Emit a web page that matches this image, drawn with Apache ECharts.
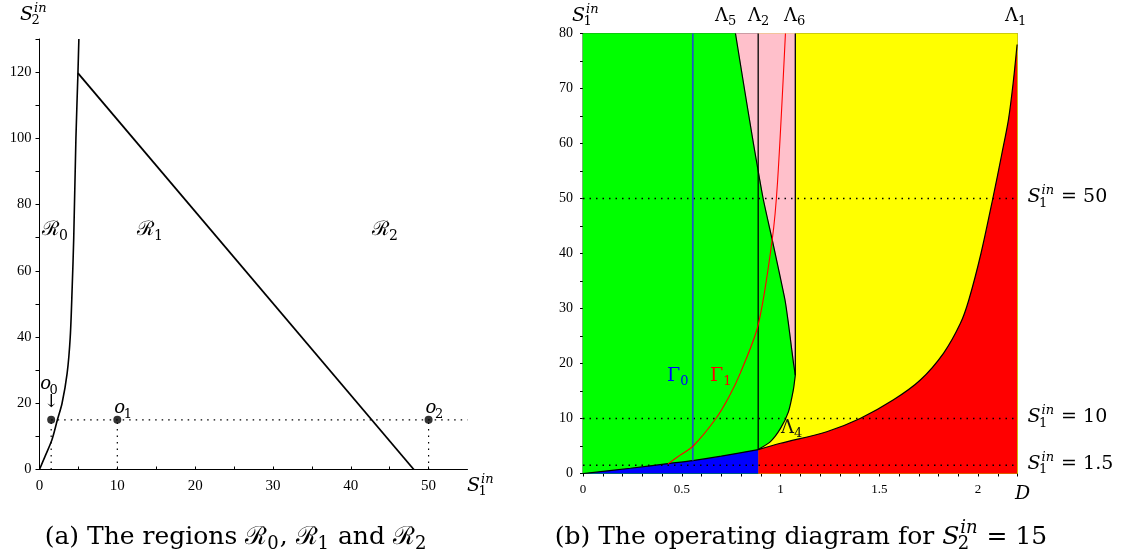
<!DOCTYPE html>
<html>
<head>
<meta charset="utf-8">
<script src="https://cdn.jsdelivr.net/npm/echarts@6/dist/echarts.min.js"></script>
<style>
  html, body { margin: 0; padding: 0; background: #fff; }
  #chart { width: 1129px; height: 558px; }
</style>
</head>
<body>
<div id="chart"></div>
<script>
// ---------- Panel (a): regions in the (S1in, S2in) plane ----------
const aXMax = 55;
const aYMax = 130;
const aS2in = 15;
// boundary between R0 and R1 (S1in, S2in)
const aBoundaryR0 = [[0, 0], [0.7, 3.9], [1.6, 9], [2.3, 15], [2.9, 20], [3.55, 29], [3.95, 40],
                     [4.2, 55], [4.4, 70], [4.68, 100], [4.94, 119.7], [5.06, 130]];
// boundary between R1 and R2
const aBoundaryR12 = [[4.94, 119.7], [48.1, 0]];
// operating points o0, o1, o2 on the line S2in = 15
const aPoints = [[1.5, 15], [10, 15], [50, 15]];
const aPointSubs = ['0', '1', '2'];

// ---------- Panel (b): operating diagram in the (D, S1in) plane ----------
const bDMax = 2.2;
const bSMax = 80;
const bLevels = [50, 10, 1.5];
// lower boundary of the blue region
const bLower = [[0, 0], [0.24, 0.95], [0.44, 1.85], [0.556, 2.35], [0.7, 3.15], [0.887, 4.35]];
// Lambda1 curve (yellow / red)
const bLambda1 = [[0.887, 4.35], [1.0, 5.5], [1.234, 7.6], [1.403, 10.0], [1.572, 13.4], [1.708, 17.0],
                  [1.826, 21.9], [1.911, 27.3], [1.953, 31.5], [2.015, 40], [2.075, 50], [2.12, 58],
                  [2.154, 64.3], [2.178, 71], [2.198, 78]];
// Lambda4 curve (green / yellow)
const bLambda4 = [[0.887, 4.35], [0.949, 5.8], [1.0, 8.2], [1.04, 11.2], [1.065, 15.2], [1.075, 17.9]];
// Lambda5 curve (green / pink)
const bLambda5 = [[1.075, 17.9], [1.066, 20], [1.057, 22.5], [1.04, 27.3], [1.023, 31.5], [0.958, 42.5],
                  [0.912, 50], [0.863, 60], [0.817, 70], [0.772, 80]];
// Gamma1 curve
const bGamma1 = [[0.43, 1.75], [0.49, 3.3], [0.558, 5], [0.673, 10], [0.74, 14], [0.797, 18.3],
                 [0.887, 27], [0.958, 42.5], [0.985, 53], [1.025, 80]];
const bLambda2D = 0.887;
const bLambda6D = 1.075;
const bGamma0D = 0.556;

// Flat-edged regions (painted in this order; red and blue are line areas drawn on top)
const bRegions = [
  { color: '#ffff00', pts: [[bLambda2D, 0], [bDMax, 0], [bDMax, bSMax], [bLambda2D, bSMax]] },
  { color: '#ffc0cb', pts: [...bLambda5, [bLambda6D, bSMax]] },
  { color: '#00ff00', pts: [[0, 0], [bLambda2D, 0], ...bLambda4, ...bLambda5.slice(1), [0, bSMax]] }
];

const TICKFONT = '"Liberation Serif", serif';
const MATH = '"DejaVu Serif", "Liberation Serif", serif';
const near = (v, step) => Math.abs(v / step - Math.round(v / step)) < 1e-6;

const chart = echarts.init(document.getElementById('chart'));

function lineSeries(data, axis, color, width, dash, extra) {
  return Object.assign({
    type: 'line', xAxisIndex: axis, yAxisIndex: axis, data: data,
    symbol: 'none', silent: true, animation: false, z: 3,
    lineStyle: { color: color, width: width, type: dash || 'solid' }
  }, extra || {});
}

const dotted = [1.5, 5];

const series = [
  // panel (a)
  lineSeries(aBoundaryR0, 0, '#000', 1.6, null, { smooth: 0.3 }),
  lineSeries(aBoundaryR12, 0, '#000', 1.8),
  lineSeries([[aPoints[0][0], aS2in], [aXMax, aS2in]], 0, '#000', 1.2, dotted),
  ...aPoints.map(p => lineSeries([[p[0], 0], [p[0], p[1]]], 0, '#000', 1.2, dotted)),
  {
    type: 'scatter', xAxisIndex: 0, yAxisIndex: 0, data: aPoints, symbolSize: 8,
    itemStyle: { color: '#000' }, silent: true, animation: false, z: 4
  },
  // panel (b): coloured regions
  {
    type: 'custom', xAxisIndex: 1, yAxisIndex: 1, data: bRegions.map((r, i) => [i]),
    silent: true, animation: false, z: 1,
    renderItem: function (params, api) {
      const r = bRegions[params.dataIndex];
      return {
        type: 'polygon',
        shape: { points: r.pts.map(p => api.coord(p)) },
        style: { fill: r.color, stroke: r.color, lineWidth: 0.5 }
      };
    }
  },
  lineSeries(bLambda1, 1, '#000', 1.2, null, {
    smooth: 0.3, z: 2,
    areaStyle: { color: '#ff0000', opacity: 1 }
  }),
  lineSeries(bLower, 1, '#000', 1.2, null, {
    smooth: 0.3, z: 2,
    areaStyle: { color: '#0000ff', opacity: 1 }
  }),
  // panel (b): level lines and curves
  ...bLevels.map(v => lineSeries([[0, v], [bDMax, v]], 1, '#000', 1.3, dotted)),
  lineSeries(bLambda4, 1, '#000', 1.2, null, { smooth: 0.2 }),
  lineSeries(bLambda5, 1, '#000', 1.2, null, { smooth: 0.2 }),
  lineSeries([[bLambda2D, bLower[bLower.length - 1][1]], [bLambda2D, bSMax]], 1, '#000', 1.3),
  lineSeries([[bLambda6D, bLambda5[0][1]], [bLambda6D, bSMax]], 1, '#000', 1.3),
  lineSeries([[bGamma0D, 2.35], [bGamma0D, bSMax]], 1, '#1f55c8', 1.7),
  lineSeries(bGamma1, 1, '#ff0000', 1.1, null, { smooth: 0.3 })
];

const axisCommon = {
  type: 'value',
  splitLine: { show: false },
  axisLine: { show: true, onZero: false, lineStyle: { color: '#000', width: 1 } },
  axisLabel: { color: '#000', fontFamily: TICKFONT, interval: 0 },
  minorTick: { show: false }
};

chart.setOption({
  animation: false,
  backgroundColor: '#fff',
  grid: [
    { left: 39.5, top: 39, width: 428, height: 430.5 },
    { left: 583, top: 33.5, width: 434.5, height: 440, show: true, borderColor: '#333', borderWidth: 1, backgroundColor: 'transparent' }
  ],
  xAxis: [
    Object.assign({}, axisCommon, {
      gridIndex: 0, min: 0, max: aXMax, interval: 5,
      axisTick: { show: true, inside: true, length: 3, lineStyle: { color: '#000' } },
      axisLabel: Object.assign({}, axisCommon.axisLabel, {
        fontSize: 15, margin: 9, showMaxLabel: false,
        formatter: v => near(v, 10) ? String(v) : ''
      })
    }),
    Object.assign({}, axisCommon, {
      gridIndex: 1, min: 0, max: bDMax, interval: 0.1,
      axisTick: { show: true, inside: false, length: 3, lineStyle: { color: '#000' } },
      axisLabel: Object.assign({}, axisCommon.axisLabel, {
        fontSize: 13, margin: 10,
        formatter: v => near(v, 0.5) ? String(Math.round(v * 2) / 2) : ''
      })
    })
  ],
  yAxis: [
    Object.assign({}, axisCommon, {
      gridIndex: 0, min: 0, max: aYMax, interval: 10,
      axisTick: { show: true, inside: false, length: 4, lineStyle: { color: '#000' } },
      axisLabel: Object.assign({}, axisCommon.axisLabel, {
        fontSize: 14.5, margin: 8,
        formatter: v => near(v, 20) ? String(v) : ''
      })
    }),
    Object.assign({}, axisCommon, {
      gridIndex: 1, min: 0, max: bSMax, interval: 5,
      axisTick: { show: true, inside: false, length: 3, lineStyle: { color: '#000' } },
      axisLabel: Object.assign({}, axisCommon.axisLabel, {
        fontSize: 14, margin: 10,
        formatter: v => near(v, 10) ? String(v) : ''
      })
    })
  ],
  series: series
});

// ---------- math-style text composed of base / superscript / subscript pieces ----------
const measureCtx = document.createElement('canvas').getContext('2d');
function measure(text, font) { measureCtx.font = font; return measureCtx.measureText(text).width; }

function formula(tokens, x, y, size, color, align) {
  const small = Math.round(size * 0.7);
  const parts = [];
  let cx = 0;
  tokens.forEach(tk => {
    if (typeof tk === 'string') tk = { t: tk };
    if (tk.t) {
      const font = (tk.it ? 'italic ' : '') + size + 'px ' + MATH;
      parts.push({ text: tk.t, dx: cx, dy: 0, font: font });
      cx += measure(tk.t, font);
    }
    if (tk.sup || tk.sub) {
      let wmax = 0;
      if (tk.sup) {
        const f = 'italic ' + small + 'px ' + MATH;
        parts.push({ text: tk.sup, dx: cx + 1, dy: -0.36 * size, font: f });
        wmax = Math.max(wmax, measure(tk.sup, f) + 1);
      }
      if (tk.sub) {
        const f = small + 'px ' + MATH;
        const sx = tk.it ? -1.5 : 0;
        parts.push({ text: tk.sub, dx: cx + sx, dy: 0.3 * size, font: f });
        wmax = Math.max(wmax, measure(tk.sub, f) + sx);
      }
      cx += wmax + 1;
    }
  });
  const shift = align === 'center' ? cx / 2 : align === 'right' ? cx : 0;
  return parts.map(p => ({
    type: 'text', x: x + p.dx - shift, y: y + p.dy, silent: true, z: 10,
    style: { text: p.text, font: p.font, fill: color, align: 'left', verticalAlign: 'middle' }
  }));
}

const px0 = p => chart.convertToPixel({ gridIndex: 0 }, p);
const px1 = p => chart.convertToPixel({ gridIndex: 1 }, p);

const g = [];
// panel (a) texts
g.push(...formula([{ t: 'S', it: true, sup: 'in', sub: '2' }], 20, 15, 19, '#000'));
g.push(...formula([{ t: 'S', it: true, sup: 'in', sub: '1' }], 467, 486, 19, '#000'));
[['0', 42], ['1', 137], ['2', 372]].forEach(([s, x]) => {
  g.push(...formula([{ t: 'ℛ', sub: s }], x, 230, 20, '#000'));
});
aPoints.forEach((p, i) => {
  const q = px0(p);
  if (i === 0) {
    g.push(...formula([{ t: 'o', it: true, sub: aPointSubs[i] }], q[0] - 11, q[1] - 35, 18, '#000'));
    g.push(...formula(['↓'], q[0], q[1] - 17, 18, '#000', 'center'));
  } else {
    g.push(...formula([{ t: 'o', it: true, sub: aPointSubs[i] }], q[0] - 3, q[1] - 11, 18, '#000'));
  }
});
g.push(...formula(['(a) The regions ', { t: 'ℛ', sub: '0' }, ', ', { t: 'ℛ', sub: '1' }, ' and ', { t: 'ℛ', sub: '2' }],
  236, 537, 25, '#000', 'center'));

// panel (b) texts
g.push(...formula([{ t: 'S', it: true, sup: 'in', sub: '1' }], 572, 16, 19, '#000'));
[['5', 715], ['2', 748], ['6', 784], ['1', 1005]].forEach(([s, x]) => {
  g.push(...formula([{ t: 'Λ', sub: s }], x, 16, 18, '#000'));
});
g.push(...formula([{ t: 'Γ', sub: '0' }], 667, 376, 19, '#0000ff'));
g.push(...formula([{ t: 'Γ', sub: '1' }], 710, 376, 19, '#ff0000'));
g.push(...formula([{ t: 'Λ', sub: '4' }], 781, 428, 18, '#111'));
bLevels.forEach(v => {
  const q = px1([bDMax, v]);
  g.push(...formula([{ t: 'S', it: true, sup: 'in', sub: '1' }, ' = ' + v], q[0] + 10, q[1] - 1, 19, '#000'));
});
g.push(...formula([{ t: 'D', it: true }], 1015, 494, 19, '#000'));
g.push(...formula(['(b) The operating diagram for ', { t: 'S', it: true, sup: 'in', sub: '2' }, ' = ' + aS2in],
  801, 537, 25, '#000', 'center'));

chart.setOption({ graphic: g });
</script>
</body>
</html>
